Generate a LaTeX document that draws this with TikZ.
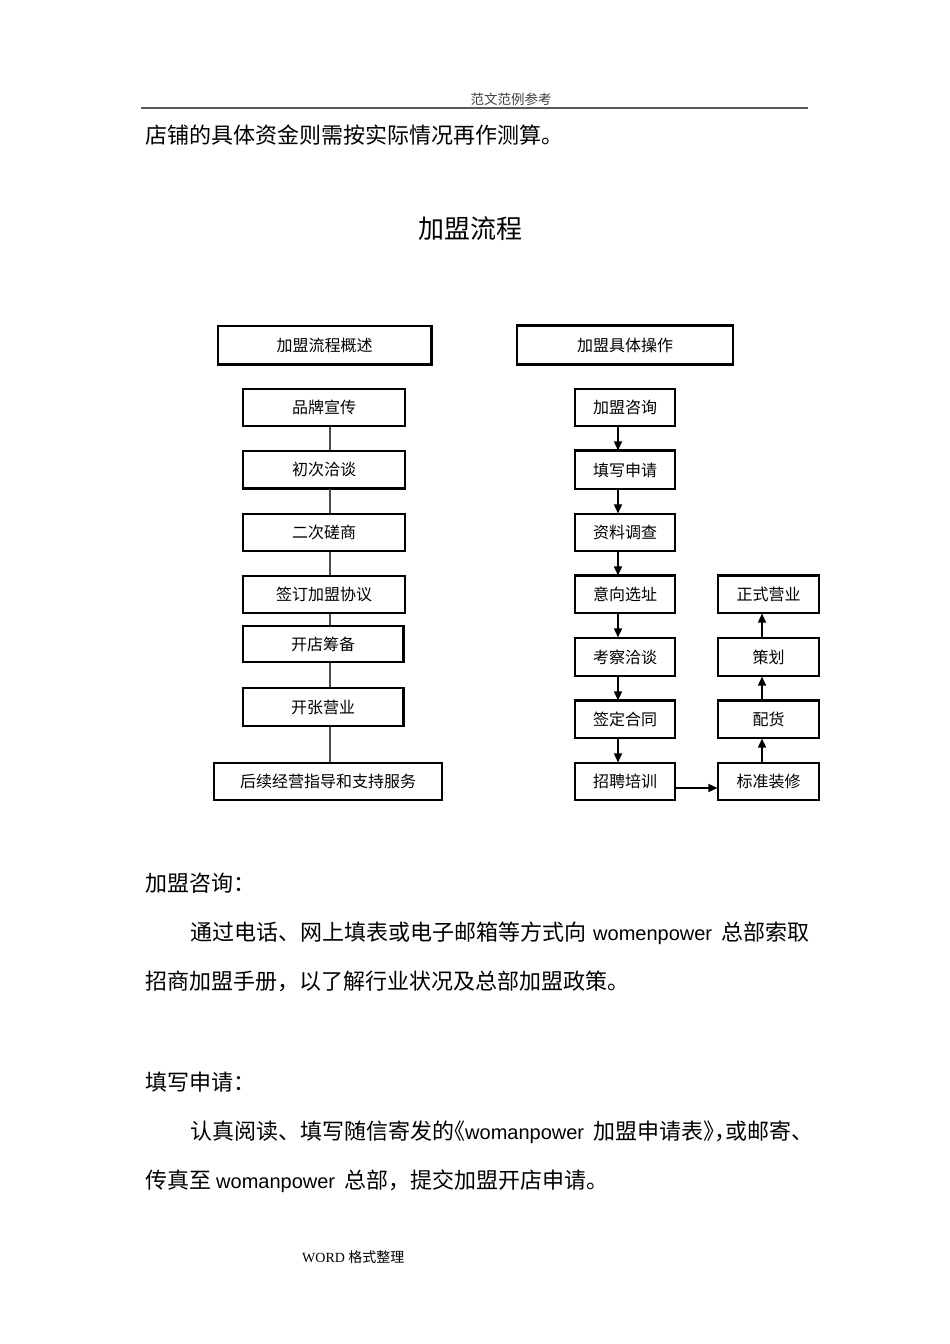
\documentclass[tikz,border=0pt]{standalone}
\usepackage{fontspec}
\setmainfont{Liberation Serif}
\newfontfamily\cjk{Noto Sans CJK SC}
\newfontfamily\arialf{Liberation Sans}
\usetikzlibrary{arrows.meta}
\newcommand\lat[1]{{\arialf\fontsize{20}{24}\selectfont #1}}
\newcommand\hw[2][l]{\makebox[11pt][#1]{#2}}
\begin{document}
\begin{tikzpicture}[x=1pt,y=-1pt,
  box/.style={draw=black, line width=1.1pt, fill=white, inner sep=0pt, font=\cjk\fontsize{16}{18}\selectfont},
  lline/.style={draw=black!70, line width=1.3pt},
  arr/.style={draw=black, line width=1.5pt, -{Triangle[length=9pt,width=8pt]}},
  thk/.style={draw=black, line width=2.2pt},
  body/.style={anchor=west, inner sep=0pt, font=\cjk\fontsize{22}{26}\selectfont}]
\useasboundingbox[fill=white] (0,0) rectangle (950,1344);

% header
\node[inner sep=0pt, text=black!75, font=\cjk\fontsize{13.5}{15}\selectfont] (hdr) at (511,99) {范文范例参考};
\draw[line width=2pt, black!65] (141,108) -- (808,108);
\node[body] (l1) at (145,135) {店铺的具体资金则需按实际情况再作测算。};

% title
\node[inner sep=0pt, font=\cjk\fontsize{26}{30}\selectfont] (title) at (470,229) {加盟流程};

% left column
\node[box, minimum width=213pt, minimum height=38pt] (hl) at (324.5,345) {加盟流程概述};
\node[box, minimum width=162pt, minimum height=37pt] (a1) at (324,407.5) {品牌宣传};
\node[box, minimum width=162pt, minimum height=37pt] (a2) at (324,469.5) {初次洽谈};
\node[box, minimum width=162pt, minimum height=37pt] (a3) at (324,532.5) {二次磋商};
\node[box, minimum width=162pt, minimum height=37pt] (a4) at (324,594.5) {签订加盟协议};
\node[box, minimum width=160pt, minimum height=36pt] (a5) at (323,644) {开店筹备};
\node[box, minimum width=160pt, minimum height=38pt] (a6) at (323,707) {开张营业};
\node[box, minimum width=228pt, minimum height=37pt] (a7) at (328,781.5) {后续经营指导和支持服务};
\draw[thk] (hl.north east) -- (hl.south east) -- (hl.south west);
\draw[thk] (a5.north east) -- (a5.south east);
\draw[thk] (a6.north east) -- (a6.south east);
\draw[thk] (a2.south west) -- (a2.south east);

\coordinate (lx) at (330,0);
\foreach \p/\q in {a1/a2,a2/a3,a3/a4,a4/a5,a5/a6,a6/a7}
  \draw[lline] (\p.south -| lx) -- (\q.north -| lx);

% right column
\node[box, minimum width=216pt, minimum height=38pt] (hr) at (625,345) {加盟具体操作};
\node[box, minimum width=100pt, minimum height=37pt] (r1) at (625,407.5) {加盟咨询};
\node[box, minimum width=100pt, minimum height=38pt] (r2) at (625,470) {填写申请};
\node[box, minimum width=100pt, minimum height=37pt] (r3) at (625,532.5) {资料调查};
\node[box, minimum width=100pt, minimum height=37pt] (r4) at (625,594.5) {意向选址};
\node[box, minimum width=100pt, minimum height=38pt] (r5) at (625,657) {考察洽谈};
\node[box, minimum width=100pt, minimum height=37pt] (r6) at (625,719.5) {签定合同};
\node[box, minimum width=100pt, minimum height=37pt] (r7) at (625,781.5) {招聘培训};

\node[box, minimum width=101pt, minimum height=37pt] (q1) at (768.5,594.5) {正式营业};
\node[box, minimum width=101pt, minimum height=38pt] (q2) at (768.5,657) {策划};
\node[box, minimum width=101pt, minimum height=37pt] (q3) at (768.5,719.5) {配货};
\node[box, minimum width=101pt, minimum height=37pt] (q4) at (768.5,781.5) {标准装修};

\draw[thk] (hr.north west) -- (hr.north east);
\draw[thk] (hr.south west) -- (hr.south east);
\draw[thk] (r2.north west) -- (r2.north east);
\draw[thk] (r4.north west) -- (r4.north east);
\draw[thk] (r6.north west) -- (r6.north east);
\draw[thk] (q1.north west) -- (q1.north east);
\draw[thk] (q3.north west) -- (q3.north east);

\coordinate (rx) at (618,0);
\coordinate (qx) at (762,0);
\coordinate (hy) at (0,788);
\foreach \p/\q in {r1/r2,r2/r3,r3/r4,r4/r5,r5/r6,r6/r7}
  \draw[arr] (\p.south -| rx) -- (\q.north -| rx);
\foreach \p/\q in {q4/q3,q3/q2,q2/q1}
  \draw[arr] (\p.north -| qx) -- (\q.south -| qx);
\draw[arr] (r7.east |- hy) -- (q4.west |- hy);

% body text
\node[body] (t1) at (145,883) {加盟咨询：};
\node[body] (t2) at (190,933) {通过电话、网上填表或电子邮箱等方式向\hspace{7pt}\lat{womenpower}\hspace{9pt}总部索取};
\node[body] (t3) at (145,981) {招商加盟手册，以了解行业状况及总部加盟政策。};
\node[body] (t4) at (145,1082) {填写申请：};
\node[body] (t5) at (190,1132) {认真阅读、填写随信寄发的\hw[r]{《}\lat{womanpower}\hspace{9pt}加盟申请表\hw{》}\hw{，}或邮寄\hw{、}};
\node[body] (t6) at (145,1181) {传真至\hspace{5pt}\lat{womanpower}\hspace{9pt}总部，提交加盟开店申请。};

% footer
\node[anchor=west, inner sep=0pt, font=\fontsize{14}{16}\selectfont] (ftr) at (302,1257) {WORD {\cjk 格式整理}};
\end{tikzpicture}
\end{document}
